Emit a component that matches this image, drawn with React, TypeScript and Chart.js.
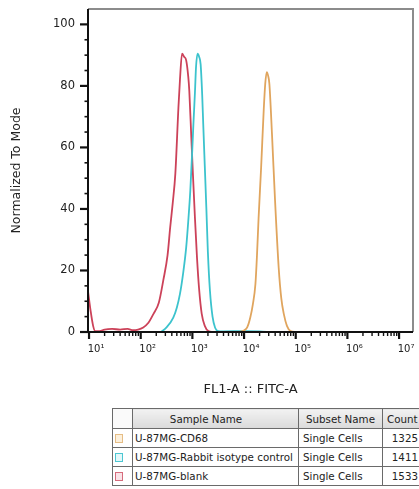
import React, { useEffect, useRef } from "react";
import { Chart, registerables } from "chart.js";

Chart.register(...registerables);

const FONT = "'DejaVu Sans', 'Liberation Sans', sans-serif";

// axis configuration
const X_MIN = 9.55;
const X_MAX = 18600000;
const Y_MIN = 0;
const Y_MAX = 105;
const X_TICKS = [10, 100, 1000, 10000, 100000, 1000000, 10000000];
const X_TICK_LABELS = ["10\u00B9", "10\u00B2", "10\u00B3", "10\u2074", "10\u2075", "10\u2076", "10\u2077"];
const Y_TICKS = [0, 20, 40, 60, 80, 100];
const Y_MINOR_TICKS = [5, 10, 15, 25, 30, 35, 45, 50, 55, 65, 70, 75, 85, 90, 95];
const X_MINOR_MULTIPLIERS = [2, 3, 4, 5, 6, 7, 8, 9];

const X_TITLE = "FL1-A :: FITC-A";
const Y_TITLE = "Normalized To Mode";

// series: U-87MG-CD68 (orange)
const CD68_X = [7900, 10000, 11500, 13200, 14800, 16600, 17800, 19100, 21400, 24000, 25700, 27500, 29500, 30900, 34700, 39800, 46800, 52500, 58900, 67600, 79400, 100000];
const CD68_Y = [0, 0.5, 1.5, 4.7, 9, 15.6, 25, 37, 53.5, 72, 80.7, 84.5, 83, 80.7, 64.4, 42.7, 20.9, 11, 5.8, 2, 0.3, 0];

// series: U-87MG-Rabbit isotype control (cyan)
const ISO_X = [250, 316, 427, 501, 575, 661, 759, 832, 912, 1000, 1047, 1122, 1175, 1259, 1349, 1445, 1549, 1622, 1738, 1862, 1995, 2188, 2455, 2754, 3162, 3981, 10000, 20000, 31600];
const ISO_Y = [0, 1.5, 4.7, 8, 12.4, 19, 27.5, 36, 46, 60, 67.6, 78, 86, 90.5, 89.5, 87, 77, 67.6, 54, 40.5, 26, 13.4, 5, 1.4, 0.3, 0.2, 0.3, 0.2, 0];

// series: U-87MG-blank (red)
const BLANK_X = [9.6, 10.7, 12, 13.2, 16, 20, 28, 40, 56, 71, 89, 112, 141, 178, 224, 275, 331, 372, 417, 468, 537, 575, 631, 692, 759, 832, 871, 955, 1023, 1122, 1230, 1349, 1514, 1738, 2042, 2500];
const BLANK_Y = [13, 7, 2, 0.3, 0.3, 0.8, 1.0, 0.8, 1.0, 0.6, 0.8, 1.5, 3, 6, 9.5, 17, 25, 34, 42, 51.5, 73, 82, 90.5, 89.5, 88.3, 83, 78.5, 63, 51.5, 37, 24, 14, 6, 2, 0.3, 0];

// legend table
const SAMPLE_NAMES = ["U-87MG-CD68", "U-87MG-Rabbit isotype control", "U-87MG-blank"];
const SUBSET_NAMES = ["Single Cells", "Single Cells", "Single Cells"];
const COUNTS = [1325, 1411, 1533];
const LINE_COLORS = ["#e0a55e", "#3cc3cd", "#cc4259"];
const SWATCH_BORDERS = ["#e6bd85", "#4cc7d2", "#d66b7c"];
const SWATCH_FILLS = ["#fcf0dc", "#e4f7f9", "#f9e3e7"];

const toPoints = (xs: number[], ys: number[]) => xs.map((x, i) => ({ x, y: ys[i] }));

const framePlugin = {
  id: "frame",
  afterDatasetsDraw(chart: any) {
    const { ctx, chartArea: a, scales } = chart;
    const xs = scales.x;
    const ys = scales.y;
    ctx.save();
    // grey frame top / right
    ctx.strokeStyle = "#8c8c8c";
    ctx.lineWidth = 2;
    ctx.beginPath();
    ctx.moveTo(a.left, a.top);
    ctx.lineTo(a.right, a.top);
    ctx.lineTo(a.right, a.bottom);
    ctx.stroke();
    // black axes
    ctx.strokeStyle = "#111";
    ctx.lineWidth = 2;
    ctx.beginPath();
    ctx.moveTo(a.left, a.top);
    ctx.lineTo(a.left, a.bottom);
    ctx.lineTo(a.right, a.bottom);
    ctx.stroke();
    // y ticks
    Y_TICKS.forEach((v) => {
      const py = ys.getPixelForValue(v);
      ctx.lineWidth = 2.2;
      ctx.beginPath();
      ctx.moveTo(a.left - 8, py);
      ctx.lineTo(a.left, py);
      ctx.stroke();
    });
    Y_MINOR_TICKS.forEach((v) => {
      const py = ys.getPixelForValue(v);
      ctx.lineWidth = 1.6;
      ctx.beginPath();
      ctx.moveTo(a.left - 3.5, py);
      ctx.lineTo(a.left, py);
      ctx.stroke();
    });
    // x ticks
    X_TICKS.forEach((v) => {
      const px = xs.getPixelForValue(v);
      ctx.lineWidth = 2.2;
      ctx.beginPath();
      ctx.moveTo(px, a.bottom);
      ctx.lineTo(px, a.bottom + 7);
      ctx.stroke();
      X_MINOR_MULTIPLIERS.forEach((m) => {
        const mv = v * m;
        if (mv > X_MAX) return;
        const mpx = xs.getPixelForValue(mv);
        ctx.lineWidth = 1.4;
        ctx.beginPath();
        ctx.moveTo(mpx, a.bottom);
        ctx.lineTo(mpx, a.bottom + 4);
        ctx.stroke();
      });
    });
    ctx.restore();
  },
};

function FlowChart() {
  const ref = useRef<HTMLCanvasElement | null>(null);
  useEffect(() => {
    if (!ref.current) return;
    const lineDs = (label: string, xs: number[], ys: number[], color: string) => ({
      label,
      data: toPoints(xs, ys),
      borderColor: color,
      backgroundColor: color,
      borderWidth: 1.8,
      pointRadius: 0,
      fill: false,
      cubicInterpolationMode: "monotone" as const,
    });
    const chart = new Chart(ref.current, {
      type: "line",
      data: {
        datasets: [
          lineDs(SAMPLE_NAMES[0], CD68_X, CD68_Y, LINE_COLORS[0]),
          lineDs(SAMPLE_NAMES[1], ISO_X, ISO_Y, LINE_COLORS[1]),
          lineDs(SAMPLE_NAMES[2], BLANK_X, BLANK_Y, LINE_COLORS[2]),
        ],
      },
      options: {
        animation: false,
        responsive: false,
        maintainAspectRatio: false,
        layout: { padding: { top: 9, right: 6, left: 0, bottom: 0 } },
        plugins: { legend: { display: false }, tooltip: { enabled: false } },
        scales: {
          x: {
            type: "logarithmic",
            min: X_MIN,
            max: X_MAX,
            position: "bottom",
            grid: { display: false, drawTicks: false },
            border: { display: false },
            afterBuildTicks: (s: any) => {
              s.ticks = X_TICKS.map((v) => ({ value: v, major: true }));
            },
            afterFit: (s: any) => {
              s.height = 68;
              s.paddingLeft = 0;
              s.paddingRight = 0;
            },
            ticks: {
              autoSkip: false,
              maxRotation: 0,
              minRotation: 0,
              padding: 11,
              labelOffset: 7,
              color: "#222",
              font: { family: FONT, size: 10 },
              callback: (_v: any, i: number) => X_TICK_LABELS[i],
            },
            title: {
              display: true,
              text: X_TITLE,
              color: "#222",
              font: { family: FONT, size: 13 },
              padding: { top: 0, bottom: 3 },
            },
          },
          y: {
            type: "linear",
            min: Y_MIN,
            max: Y_MAX,
            grid: { display: false, drawTicks: false },
            border: { display: false },
            afterBuildTicks: (s: any) => {
              s.ticks = Y_TICKS.map((v) => ({ value: v }));
            },
            afterFit: (s: any) => {
              s.width = 88;
              s.paddingTop = 0;
              s.paddingBottom = 0;
            },
            ticks: {
              padding: 13,
              color: "#222",
              font: { family: FONT, size: 11.5 },
            },
            title: {
              display: true,
              text: Y_TITLE,
              color: "#222",
              font: { family: FONT, size: 12.5 },
              padding: { top: 9, bottom: 0 },
            },
          },
        },
      },
      plugins: [framePlugin],
    });
    return () => chart.destroy();
  }, []);
  return (
    <canvas
      ref={ref}
      width={419}
      height={400}
      style={{ position: "absolute", left: 0, top: 0, width: 419, height: 400, display: "block" }}
    />
  );
}

function LegendTable() {
  const cellBorder = "1px solid #6a6a6a";
  const headCell: React.CSSProperties = {
    border: cellBorder,
    background: "linear-gradient(#f2f2f2, #dadada)",
    height: 19,
    padding: 0,
    fontWeight: "normal",
    whiteSpace: "nowrap",
    overflow: "hidden",
  };
  const bodyCell: React.CSSProperties = {
    border: cellBorder,
    height: 18,
    padding: "0 2px",
    whiteSpace: "nowrap",
    overflow: "hidden",
    background: "#fff",
  };
  return (
    <table
      style={{
        position: "absolute",
        left: 112,
        top: 408,
        borderCollapse: "collapse",
        tableLayout: "fixed",
        width: 309,
        fontFamily: FONT,
        fontSize: 10.3,
        color: "#222",
        border: "1px solid #4a4a4a",
      }}
    >
      <colgroup>
        <col style={{ width: 20 }} />
        <col style={{ width: 166 }} />
        <col style={{ width: 84 }} />
        <col style={{ width: 39 }} />
      </colgroup>
      <thead>
        <tr>
          <th style={{ ...headCell, background: "#fafafa" }}></th>
          <th style={{ ...headCell, textAlign: "center", paddingRight: 19 }}>Sample Name</th>
          <th style={{ ...headCell, textAlign: "center" }}>Subset Name</th>
          <th style={{ ...headCell, textAlign: "left", paddingLeft: 4 }}>Count</th>
        </tr>
      </thead>
      <tbody>
        {SAMPLE_NAMES.map((name, i) => (
          <tr key={name}>
            <td style={{ ...bodyCell, paddingLeft: 2 }}>
              <div
                style={{
                  width: 6,
                  height: 7,
                  border: `1.5px solid ${SWATCH_BORDERS[i]}`,
                  background: SWATCH_FILLS[i],
                }}
              />
            </td>
            <td style={{ ...bodyCell, textAlign: "left" }}>{name}</td>
            <td style={{ ...bodyCell, textAlign: "left", paddingLeft: 4 }}>{SUBSET_NAMES[i]}</td>
            <td style={{ ...bodyCell, textAlign: "right", paddingRight: 3 }}>{COUNTS[i]}</td>
          </tr>
        ))}
      </tbody>
    </table>
  );
}

export default function App() {
  return (
    <div
      style={{
        position: "fixed",
        left: 0,
        top: 0,
        width: 419,
        height: 489,
        overflow: "hidden",
        background: "#fff",
      }}
    >
      <FlowChart />
      <LegendTable />
    </div>
  );
}
